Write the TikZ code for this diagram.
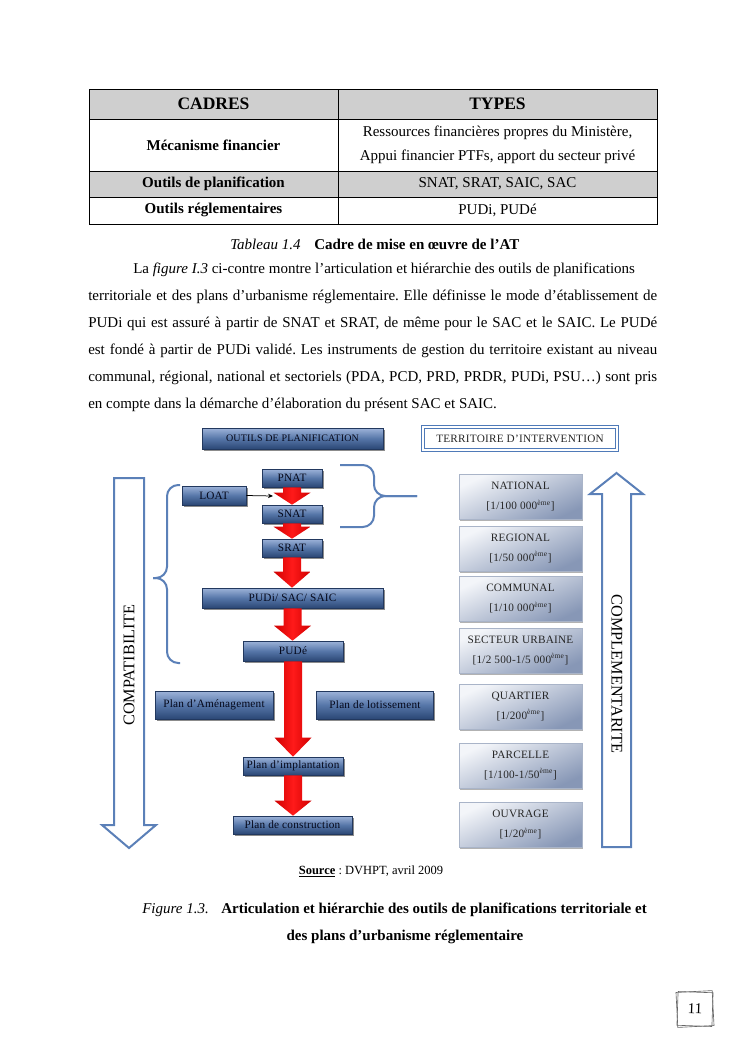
\documentclass[tikz,border=0pt]{standalone}
\usepackage{fontspec}
\setmainfont{Liberation Serif}
\newfontfamily\boxfont[LetterSpace=2]{Liberation Serif}
\usetikzlibrary{arrows.meta,calc}
\definecolor{tabgray}{HTML}{CFCFCF}
\definecolor{dktop}{HTML}{9DB3D9}
\definecolor{dkmid}{HTML}{5676A8}
\definecolor{dkbot}{HTML}{2B4775}
\definecolor{dkline}{HTML}{22385E}
\definecolor{dktext}{HTML}{05081A}
\definecolor{lttop}{HTML}{F3F5F9}
\definecolor{ltbot}{HTML}{8797B6}
\definecolor{ltline}{HTML}{A9B4C8}
\definecolor{braceblue}{HTML}{5B80B8}
\definecolor{terrblue}{HTML}{4F7AB8}
\definecolor{redA}{HTML}{D00000}
\definecolor{redB}{HTML}{FF1A1A}
\newcommand\redarr[3]{%
  \shade[left color=redA, right color=redA, middle color=redB]
    let \p1=(#1.south), \p2=(#2.north) in
    (\x1-7.2pt,\y1) -- (\x1+7.2pt,\y1) -- (\x1+7.2pt,\y2+#3) -- (\x1+14.8pt,\y2+#3)
    -- (\x1,\y2) -- (\x1-14.8pt,\y2+#3) -- (\x1-7.2pt,\y2+#3) -- cycle;}
\begin{document}
\frenchspacing
\begin{tikzpicture}[x=0.8pt,y=-0.8pt,
  darkbox/.style={draw=dkline, line width=0.5pt,
    preaction={fill=black, fill opacity=0.45, draw=none, transform canvas={xshift=1.2pt, yshift=-1.5pt}},
    top color=dktop, bottom color=dkbot, middle color=dkmid,
    text=dktext, font=\boxfont\fontsize{9}{10}\selectfont, inner sep=0pt},
  lightbox/.style={draw=ltline, line width=0.4pt,
    preaction={fill=black, fill opacity=0.3, draw=none, transform canvas={xshift=1pt, yshift=-1.2pt}},
    top color=lttop, bottom color=ltbot, shading angle=25,
    text=black!85, font=\boxfont\fontsize{9}{16}\selectfont, align=center,
    inner sep=0pt, minimum width=98.4pt, minimum height=36pt},
  hollow/.style={draw=braceblue, line width=1.6pt, line join=miter},
  bracestyle/.style={draw=braceblue, line width=1.6pt, rounded corners=9pt},
  cell/.style={inner sep=0pt, font=\fontsize{12}{14}\selectfont},
  celltext/.style={inner sep=0pt, font=\fontsize{12}{19.2}\selectfont, align=center}
]
\useasboundingbox (0,0) rectangle (745,1053);
\fill[white] (0,0) rectangle (745,1053);

% ---------- table ----------
\fill[tabgray] (89,89) rectangle (657,119);
\fill[tabgray] (89,171) rectangle (657,197);
\draw[line width=0.6pt] (89,89) rectangle (657,224);
\draw[line width=0.6pt] (89,119) -- (657,119) (89,171) -- (657,171) (89,197) -- (657,197) (338,89) -- (338,224);
\node[cell, font=\fontsize{14}{16}\selectfont\bfseries] (h1) at (213.5,104) {CADRES};
\node[cell, font=\fontsize{14}{16}\selectfont\bfseries] (h2) at (497.5,104) {TYPES};
\node[cell, font=\fontsize{12}{14}\selectfont\bfseries] (r1a) at (213.5,145) {Mécanisme financier};
\node[celltext] (r1b) at (497.5,145) {Ressources financières propres du Ministère,\\Appui financier PTFs, apport du secteur privé};
\node[cell, font=\fontsize{12}{14}\selectfont\bfseries] (r2a) at (213.5,184) {Outils de planification};
\node[cell] (r2b) at (497.5,184) {SNAT, SRAT, SAIC, SAC};
\node[cell, font=\fontsize{12}{14}\selectfont\bfseries] (r3a) at (213.5,210) {Outils réglementaires};
\node[cell] (r3b) at (497.5,210) {PUDi, PUDé};

\node[cell, anchor=west] (tabcap) at (230,244) {\textit{Tableau 1.4}\hspace{11pt}\textbf{Cadre de mise en œuvre de l’AT}};

% ---------- paragraph ----------
\node[anchor=north west, inner sep=0pt, text width=455.2pt, align=justify,
  font=\fontsize{12}{21.6}\selectfont] (para) at (88,263) {%
\hspace*{36pt}La \textit{figure I.3} ci-contre montre l’articulation et hiérarchie des outils de planifications\newline
territoriale et des plans d’urbanisme réglementaire. Elle définisse le mode d’établissement de\linebreak
PUDi qui est assuré à partir de SNAT et SRAT, de même pour le SAC et le SAIC. Le PUDé\linebreak
est fondé à partir de PUDi validé. Les instruments de gestion du territoire existant au niveau\linebreak
communal, régional, national et sectoriels (PDA, PCD, PRD, PRDR, PUDi, PSU…) sont pris\linebreak
en compte dans la démarche d’élaboration du présent SAC et SAIC.};

% ---------- diagram: hollow arrows ----------
\draw[hollow] (114,478) -- (144,478) -- (144,825) -- (156,825) -- (129,848) -- (102,825) -- (114,825) -- cycle;
\node[rotate=90, inner sep=0pt, font=\fontsize{13}{15}\selectfont] (compat) at (129,665) {COMPATIBILITE};
\draw[hollow] (602,847) -- (602,494) -- (590,494) -- (616.5,473) -- (643,494) -- (631,494) -- (631,847) -- cycle;
\node[rotate=-90, inner sep=0pt, font=\fontsize{13}{15}\selectfont] (compl) at (617,674) {COMPLEMENTARITE};

% ---------- braces ----------
\draw[bracestyle] (180,485) -- (167,485) -- (167,578) -- (153,578);
\draw[bracestyle] (180,663) -- (167,663) -- (167,578) -- (153,578);
\draw[bracestyle] (340,465) -- (374,465) -- (374,496) -- (417,496);
\draw[bracestyle] (340,527) -- (374,527) -- (374,496) -- (417,496);

% ---------- left column boxes ----------
\node[darkbox, minimum width=144.8pt, minimum height=16.8pt, font=\boxfont\fontsize{8}{9}\selectfont] (outils) at (292.5,438.5) {OUTILS DE PLANIFICATION};
\node[darkbox, minimum width=48pt, minimum height=14.4pt] (pnat) at (292,478) {PNAT};
\node[darkbox, minimum width=51.2pt, minimum height=15.2pt] (loat) at (214,495.5) {LOAT};
\node[darkbox, minimum width=48pt, minimum height=14.4pt] (snat) at (292,514) {SNAT};
\node[darkbox, minimum width=48pt, minimum height=14.4pt] (srat) at (292,548) {SRAT};
\node[darkbox, minimum width=144.8pt, minimum height=16pt] (pudi) at (292.5,598) {PUDi/ SAC/ SAIC};
\node[darkbox, minimum width=80pt, minimum height=16pt] (pude) at (293,651) {PUDé};
\node[darkbox, minimum width=94.4pt, minimum height=22.4pt] (amen) at (214,705) {Plan d’Aménagement};
\node[darkbox, minimum width=93.6pt, minimum height=22.4pt] (lotis) at (375,705) {Plan de lotissement};
\node[darkbox, minimum width=80pt, minimum height=14.4pt] (impl) at (293,766) {Plan d’implantation};
\node[darkbox, minimum width=95.2pt, minimum height=14.4pt] (constr) at (292.5,825) {Plan de construction};

% red arrows
\redarr{pnat}{snat}{9.6pt}
\redarr{snat}{srat}{9.6pt}
\redarr{srat}{pudi}{12.8pt}
\redarr{pudi}{pude}{12pt}
\redarr{pude}{impl}{15.2pt}
\redarr{impl}{constr}{12pt}

\coordinate (lotip) at (273,496);
\draw[-{Stealth[length=4pt,width=3.5pt]}, line width=0.6pt] (loat.east) -- (lotip);

% ---------- right column ----------
\node[draw=terrblue, line width=0.9pt, double=white, double distance=1.2pt, fill=white,
  minimum width=155.2pt, minimum height=18.4pt, inner sep=0pt,
  font=\boxfont\fontsize{9}{10}\selectfont, text=black!85] (terr) at (520,438.5) {TERRITOIRE D’INTERVENTION};
\node[lightbox] (nat) at (520.5,497) {NATIONAL\\{}[1/100 000\textsuperscript{ème}]};
\node[lightbox] (reg) at (520.5,548.5) {REGIONAL\\{}[1/50 000\textsuperscript{ème}]};
\node[lightbox] (com) at (520.5,599) {COMMUNAL\\{}[1/10 000\textsuperscript{ème}]};
\node[lightbox] (sec) at (520.5,650.5) {SECTEUR URBAINE\\{}[1/2 500-1/5 000\textsuperscript{ème}]};
\node[lightbox] (qua) at (520.5,706.5) {QUARTIER\\{}[1/200\textsuperscript{ème}]};
\node[lightbox] (par) at (520.5,765.5) {PARCELLE\\{}[1/100-1/50\textsuperscript{ème}]};
\node[lightbox] (ouv) at (520.5,825) {OUVRAGE\\{}[1/20\textsuperscript{ème}]};

% ---------- captions ----------
\node[inner sep=0pt, font=\fontsize{10}{12}\selectfont] (src) at (371,871) {\underline{\textbf{Source}} : DVHPT, avril 2009};
\node[anchor=west, inner sep=0pt, font=\fontsize{12}{14}\selectfont] (fig1) at (142,910)
  {\textit{Figure 1.3.}\hspace{10pt}\textbf{Articulation et hiérarchie des outils de planifications territoriale et}};
\node[inner sep=0pt, font=\fontsize{12}{14}\selectfont\bfseries] (fig2) at (405,937) {des plans d’urbanisme réglementaire};

% ---------- page number ----------
\node[draw=black!60, line width=0.5pt, minimum width=29pt, minimum height=28pt, rotate=3] (pgb) at (695,1009) {};
\node[draw=black!60, line width=0.5pt, minimum width=28pt, minimum height=27pt, rotate=-2,
  font=\fontsize{12}{14}\selectfont] (pg) at (695,1009) {11};
\end{tikzpicture}
\end{document}
